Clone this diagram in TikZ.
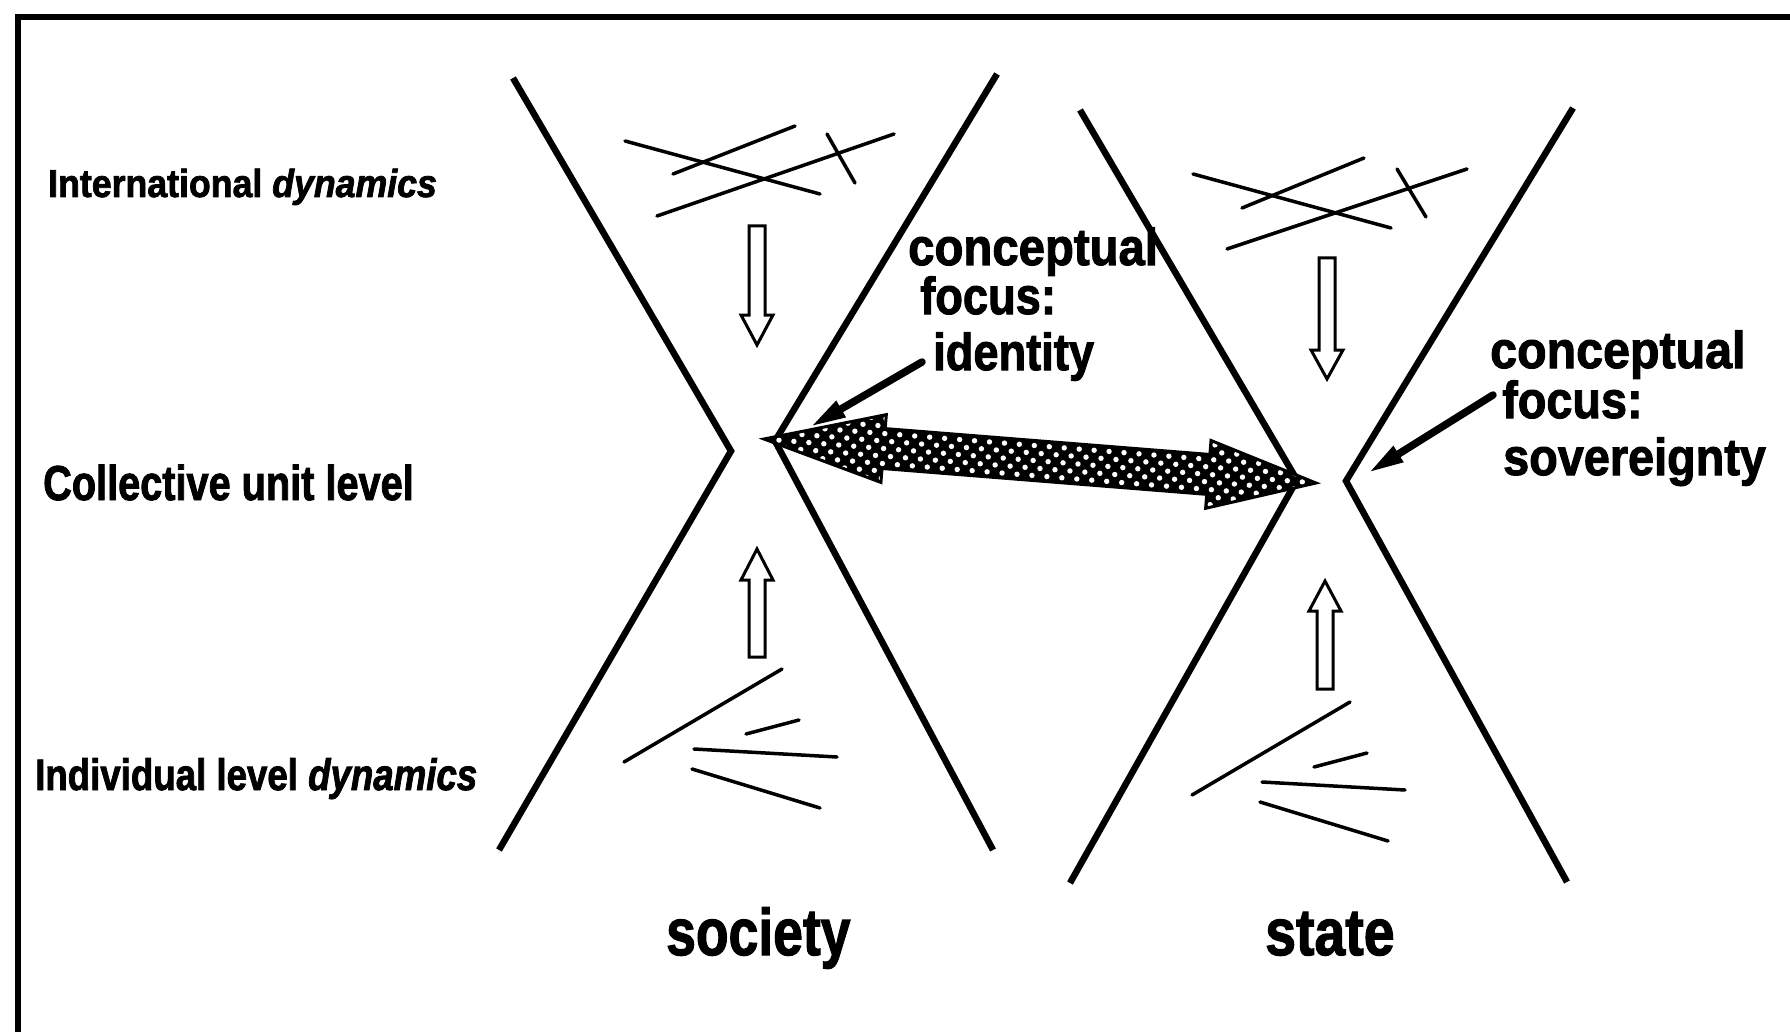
\documentclass[tikz,border=0pt]{standalone}
\usepackage{fontspec}
\setmainfont{Liberation Sans}[BoldFeatures={FakeBold=2}, BoldItalicFeatures={FakeBold=2}]
\usepackage{graphicx}
\usetikzlibrary{arrows.meta}
\newcommand\hsq[2]{\scalebox{#1}[1]{#2}}
\newcommand\cfont{\fontsize{52}{52}\selectfont\bfseries}
\begin{document}
\begin{tikzpicture}[x=1pt,y=-1pt,
  xline/.style={line width=6.5pt, line join=miter, line cap=butt},
  scrib/.style={line width=3.5pt, line cap=round},
  blockarrow/.style={draw, line width=3pt, fill=white, line join=miter},
  pointer/.style={line width=7.5pt, line cap=round, -{Triangle[length=36pt,width=17pt]}},
  lbl/.style={inner sep=0pt, anchor=base west},
]
\useasboundingbox (0,0) rectangle (1790,1032);
\fill[white] (0,0) rectangle (1790,1032);
% frame
\coordinate (fb) at (18,1032); \coordinate (fc) at (18,17); \coordinate (fr) at (1790,17);
\draw[line width=6pt, line join=miter] (fb) -- (fc) -- (fr);

% society X
\coordinate (sLt) at (513,78); \coordinate (sLv) at (731,451); \coordinate (sLb) at (499,850);
\coordinate (sRt) at (997,74); \coordinate (sRv) at (775,441); \coordinate (sRb) at (993,850);
\draw[xline] (sLt) -- (sLv) -- (sLb);
\draw[xline] (sRt) -- (sRv) -- (sRb);
% state X
\coordinate (tLt) at (1080,110); \coordinate (tLv) at (1297,480); \coordinate (tLb) at (1070,883);
\coordinate (tRt) at (1573,108); \coordinate (tRv) at (1346,481); \coordinate (tRb) at (1567,882);
\draw[xline] (tLt) -- (tLv) -- (tLb);
\draw[xline] (tRt) -- (tRv) -- (tRb);

% scribbles society top
\draw[scrib] (625,141) -- (820,194);
\draw[scrib] (673,174) -- (795,126);
\draw[scrib] (657,216) -- (894,134);
\draw[scrib] (827,134) -- (855,183);
% scribbles state top
\draw[scrib] (1193,174) -- (1391,228);
\draw[scrib] (1242,208) -- (1364,158);
\draw[scrib] (1227,249) -- (1467,169);
\draw[scrib] (1397,169) -- (1426,217);
% scribbles society bottom
\draw[scrib] (624,762) -- (782,669);
\draw[scrib] (746,734) -- (799,720);
\draw[scrib] (694,749) -- (837,757);
\draw[scrib] (692,769) -- (820,808);
% scribbles state bottom
\draw[scrib] (1192,795) -- (1350,702);
\draw[scrib] (1314,767) -- (1367,753);
\draw[scrib] (1262,782) -- (1405,790);
\draw[scrib] (1260,802) -- (1388,841);

% block arrows
\draw[blockarrow] (749,226) -- (765,226) -- (765,315) -- (773,315) -- (757,345) -- (741,315) -- (749,315) -- cycle;
\draw[blockarrow] (1319,258) -- (1335,258) -- (1335,350) -- (1343,350) -- (1327,379) -- (1311,350) -- (1319,350) -- cycle;
\draw[blockarrow] (749,657) -- (765,657) -- (765,580) -- (773,580) -- (757,549) -- (741,580) -- (749,580) -- cycle;
\draw[blockarrow] (1317,689) -- (1333,689) -- (1333,611) -- (1341,611) -- (1325,581) -- (1309,611) -- (1317,611) -- cycle;

% double arrow
\begin{scope}[shift={(764,439)}, rotate=-4.557]
  \def\dapath{(0,0) -- (120,-34) -- (120,-20) -- (445.75,-20) -- (445.75,-34) -- (553.75,0) -- (445.75,34) -- (445.75,20) -- (120,20) -- (120,34) -- cycle}
  \fill[black] \dapath;
  \begin{scope}
    \clip \dapath;
    \foreach \i in {0,...,37} {
      \foreach \j in {-4,-2,...,4} { \fill[white] (15*\i,7.5*\j) circle[radius=2.7pt]; }
      \foreach \j in {-5,-3,...,5} { \fill[white] (15*\i+7.5,7.5*\j) circle[radius=2.7pt]; }
    }
  \end{scope}
  \draw[line width=3pt, line join=miter] \dapath;
\end{scope}

% labels left
\node[lbl] (intl) at (48,197) {\fontsize{39}{39}\selectfont\hsq{0.915}{\textbf{International \textit{dynamics}}}};
\node[lbl] (coll) at (43,500) {\fontsize{49}{49}\selectfont\hsq{0.81}{\textbf{Collective unit level}}};
\node[lbl] (indiv) at (35,790) {\fontsize{44}{44}\selectfont\hsq{0.833}{\textbf{Individual level \textit{dynamics}}}};

% conceptual focus labels
\node[lbl] (sc1) at (908,265) {\cfont\hsq{0.91}{conceptual}};
\node[lbl] (sc2) at (920,314) {\cfont\hsq{0.87}{focus:}};
\node[lbl] (sc3) at (933,370) {\cfont\hsq{0.87}{identity}};
\node[lbl] (tc1) at (1490,368) {\cfont\hsq{0.93}{conceptual}};
\node[lbl] (tc2) at (1502,418) {\cfont\hsq{0.9}{focus:}};
\node[lbl] (tc3) at (1503,475) {\cfont\hsq{0.9}{sovereignty}};

% bottom labels
\node[lbl] (soc) at (666,955) {\fontsize{66}{66}\selectfont\bfseries\hsq{0.81}{society}};
\node[lbl] (sta) at (1265,955) {\fontsize{66}{66}\selectfont\bfseries\hsq{0.84}{state}};

% pointers
\coordinate (sp0) at (922,362); \coordinate (sp1) at (810,427);
\draw[pointer] (sp0) -- (sp1);
\coordinate (tp0) at (1493,395); \coordinate (tp1) at (1368,473);
\draw[pointer] (tp0) -- (tp1);
\end{tikzpicture}
\end{document}
